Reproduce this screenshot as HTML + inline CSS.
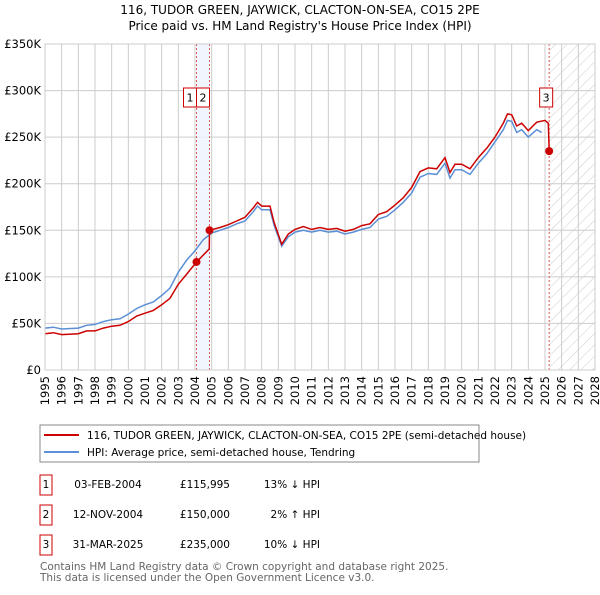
<!DOCTYPE html>
<html><head><meta charset="utf-8"><style>
body{margin:0;background:#fff;font-family:"Liberation Sans","DejaVu Sans",sans-serif;}
svg text{font-family:"DejaVu Sans","Liberation Sans",sans-serif;}
</style></head><body>
<svg id="c" width="600" height="590" viewBox="0 0 600 590" xmlns="http://www.w3.org/2000/svg">
<defs><pattern id="hatch" width="8" height="8" patternUnits="userSpaceOnUse" patternTransform="rotate(45)"><line x1="0" y1="0" x2="0" y2="8" stroke="#ccc" stroke-width="1"/></pattern></defs>
<text x="300" y="14" text-anchor="middle" font-size="12" fill="#000">116, TUDOR GREEN, JAYWICK, CLACTON-ON-SEA, CO15 2PE</text>
<text x="300" y="30" text-anchor="middle" font-size="12" fill="#000">Price paid vs. HM Land Registry's House Price Index (HPI)</text>
<g id="grid"></g><g id="bands"></g><g id="lines"></g><g id="axes"></g>
<rect x="40" y="425" width="439" height="37" fill="#fff" stroke="#888"/>
<line x1="44" y1="435" x2="79" y2="435" stroke="#cc0000" stroke-width="2"/>
<text x="87" y="439" font-size="10.5">116, TUDOR GREEN, JAYWICK, CLACTON-ON-SEA, CO15 2PE (semi-detached house)</text>
<line x1="44" y1="452" x2="79" y2="452" stroke="#5b8fd6" stroke-width="2"/>
<text x="87" y="456" font-size="10.5">HPI: Average price, semi-detached house, Tendring</text>
<g font-size="10.5">
<rect x="40" y="475" width="12" height="20" fill="none" stroke="#cc0000"/><text x="46" y="488" text-anchor="middle">1</text>
<text x="108" y="488" text-anchor="middle">03-FEB-2004</text><text x="230" y="488" text-anchor="end">£115,995</text><text x="320" y="488" text-anchor="end">13% ↓ HPI</text>
<rect x="40" y="505" width="12" height="20" fill="none" stroke="#cc0000"/><text x="46" y="518" text-anchor="middle">2</text>
<text x="108" y="518" text-anchor="middle">12-NOV-2004</text><text x="230" y="518" text-anchor="end">£150,000</text><text x="320" y="518" text-anchor="end">2% ↑ HPI</text>
<rect x="40" y="535" width="12" height="20" fill="none" stroke="#cc0000"/><text x="46" y="548" text-anchor="middle">3</text>
<text x="108" y="548" text-anchor="middle">31-MAR-2025</text><text x="230" y="548" text-anchor="end">£235,000</text><text x="320" y="548" text-anchor="end">10% ↓ HPI</text>
</g>
<text x="40" y="570" font-size="10.5" fill="#666">Contains HM Land Registry data © Crown copyright and database right 2025.</text>
<text x="40" y="581" font-size="10.5" fill="#666">This data is licensed under the Open Government Licence v3.0.</text>
</svg>
<script>
const hpiYears=[1995,1995.5,1996,1997,1997.5,1998,1998.5,1999,1999.5,2000,2000.5,2001,2001.5,2002,2002.5,2003,2003.5,2004,2004.5,2005,2005.5,2006,2006.5,2007,2007.5,2007.75,2008,2008.5,2008.75,2009.2,2009.6,2010,2010.5,2011,2011.5,2012,2012.5,2013,2013.5,2014,2014.5,2015,2015.5,2016,2016.5,2017,2017.5,2018,2018.5,2019,2019.3,2019.6,2020,2020.5,2021,2021.5,2022,2022.5,2022.75,2023,2023.3,2023.6,2024,2024.5,2024.8];
const hpiValues=[45,46,44,45,48,49,52,54,55,60,66,70,73,80,88,105,118,128,140,147,150,153,157,160,170,176,172,172,155,133,143,148,150,148,150,148,149,146,148,151,153,162,165,172,180,190,207,211,210,222,206,215,215,210,222,232,245,258,268,267,255,258,250,258,255];
const propYears=[1995,1995.5,1996,1997,1997.5,1998,1998.5,1999,1999.5,2000,2000.5,2001,2001.5,2002,2002.5,2003,2003.5,2004.09,2004.86,2004.87,2005.5,2006,2006.5,2007,2007.5,2007.75,2008,2008.5,2008.75,2009.2,2009.6,2010,2010.5,2011,2011.5,2012,2012.5,2013,2013.5,2014,2014.5,2015,2015.5,2016,2016.5,2017,2017.5,2018,2018.5,2019,2019.3,2019.6,2020,2020.5,2021,2021.5,2022,2022.5,2022.75,2023,2023.3,2023.6,2024,2024.5,2025,2025.2,2025.25];
const propValues=[39,40,38,39,42,42,45,47,48,52,58,61,64,70,77,92,103,116,130,150,153,156,160,164,174,180,176,176,158,135,146,151,154,151,153,151,152,149,151,155,157,167,170,177,185,196,213,217,216,228,212,221,221,216,228,238,250,265,275,274,262,265,257,266,268,265,235];
const sales=[[2004.09,115.995,"1"],[2004.87,150,"2"],[2025.25,235,"3"]];
const yTicks=[0,50,100,150,200,250,300,350];
const yTickLabels=["£0","£50K","£100K","£150K","£200K","£250K","£300K","£350K"];
const xYears=[];for(let y=1995;y<=2028;y++)xYears.push(y);
const X0=45,X1=595,Y0=370,Y1=44;
const xs=v=>X0+(v-1995)/(2028-1995)*(X1-X0);
const ys=v=>Y0-v/350*(Y0-Y1);
const NS="http://www.w3.org/2000/svg";
function mk(parent,tag,attrs){const e=document.createElementNS(NS,tag);for(const k in attrs)e.setAttribute(k,attrs[k]);document.getElementById(parent).appendChild(e);return e;}
yTicks.forEach((t,i)=>{
 const l=mk('grid','line',{x1:X0,x2:X1,y1:ys(t),y2:ys(t),stroke:'#ccc','stroke-width':1});
 
 
 const tx=mk('axes','text',{x:X0-4,y:ys(t)+4,'text-anchor':'end','font-size':11.5});
 tx.textContent=yTickLabels[i];
 
 
});
xYears.forEach(y=>{
 const l=mk('grid','line',{x1:xs(y),x2:xs(y),y1:Y1,y2:Y0,stroke:'#ccc','stroke-width':1});
 
 
 const tx=mk('axes','text',{x:0,y:0,'text-anchor':'end','font-size':11.5,transform:`translate(${xs(y)+4},${Y0+6}) rotate(-90)`});
 tx.textContent=y;
 
 
});
const band=mk('bands','rect',{x:xs(sales[0][0]),y:Y1,width:xs(sales[1][0])-xs(sales[0][0]),height:Y0-Y1,fill:'#eef3fc',opacity:0.8});


const hat=mk('bands','rect',{x:xs(sales[2][0]),y:Y1,width:X1-xs(sales[2][0]),height:Y0-Y1,fill:'url(#hatch)'});


sales.forEach(s=>{
 const l=mk('bands','line',{x1:xs(s[0]),x2:xs(s[0]),y1:Y1,y2:Y0,stroke:'#e05555','stroke-dasharray':'2,2','stroke-width':1});
 
 
});
const fr=mk('axes','rect',{x:X0,y:Y1,width:X1-X0,height:Y0-Y1,fill:'none',stroke:'#ccc'});


function path(xa,va){return xa.map((x,i)=>(i?'L':'M')+xs(x).toFixed(1)+','+ys(va[i]).toFixed(1)).join('');}
const hp=mk('lines','path',{d:path(hpiYears,hpiValues),fill:'none',stroke:'#5b8fd6','stroke-width':1.5});


const pp=mk('lines','path',{d:path(propYears,propValues),fill:'none',stroke:'#cc0000','stroke-width':1.5});


sales.forEach((s,i)=>{
 const c=mk('lines','circle',{cx:xs(s[0]),cy:ys(s[1]),r:4,fill:'#cc0000'});
 
 
});
sales.forEach((s,i)=>{
 const cx=i===0?xs(s[0])-6.5:(i===1?xs(sales[0][0])+6.5:xs(s[0])-3);
 const r=mk('lines','rect',{x:cx-6.5,y:88,width:13,height:19,fill:'#fff',stroke:'#cc0000'});
 
 
 const t=mk('lines','text',{x:cx,y:101.5,'text-anchor':'middle','font-size':11});
 t.textContent=s[2];
 
 
});
</script>
</body></html>
